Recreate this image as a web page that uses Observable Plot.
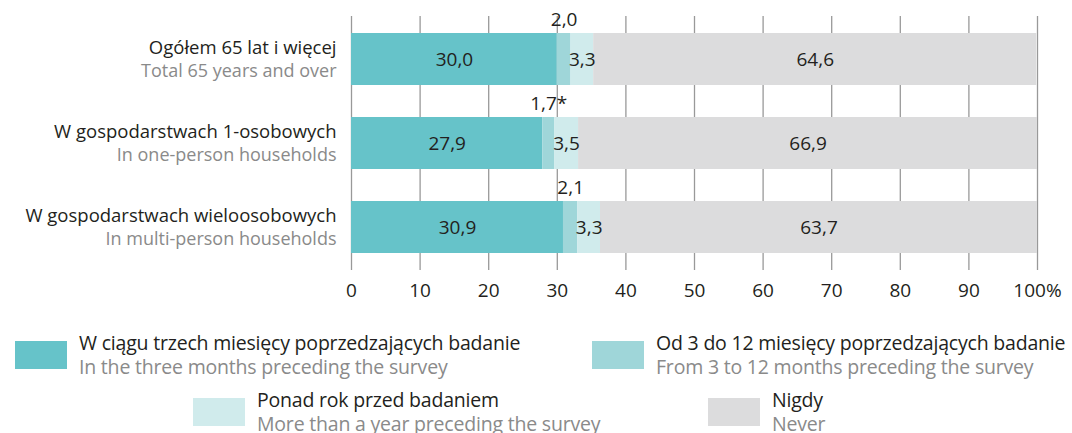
<!DOCTYPE html>
<html><head><meta charset="utf-8">
<script src="https://cdn.jsdelivr.net/npm/d3@7"></script>
<script src="https://cdn.jsdelivr.net/npm/@observablehq/plot@0.6"></script>
<style>
body{margin:0;background:#fff;font-family:"Open Sans",sans-serif;}
#wrap{position:relative;width:1072px;}
#legend{position:relative;width:1072px;height:123px;overflow:hidden;}
.item{position:absolute;display:flex;align-items:center;}
.sw{width:52px;height:28px;flex:none;}
.txt{margin-left:12px;font-size:19.5px;line-height:24px;white-space:nowrap;letter-spacing:-0.2px;}
.pl{color:#231f20}.en{color:#8a8a8a}
</style></head><body>
<div id="wrap"><div id="chart"></div><div id="legend"></div></div>
<script>
const categoriesPL = ["Ogółem 65 lat i więcej", "W gospodarstwach 1-osobowych", "W gospodarstwach wieloosobowych"];
const categoriesEN = ["Total 65 years and over", "In one-person households", "In multi-person households"];
const seriesPL = ["W ciągu trzech miesięcy poprzedzających badanie", "Od 3 do 12 miesięcy poprzedzających badanie", "Ponad rok przed badaniem", "Nigdy"];
const seriesEN = ["In the three months preceding the survey", "From 3 to 12 months preceding the survey", "More than a year preceding the survey", "Never"];
const colors = ["#66c3c9", "#9fd6d9", "#d0ebec", "#dcdcdd"];
const values = [
  [30.0, 2.0, 3.3, 64.6],
  [27.9, 1.7, 3.5, 66.9],
  [30.9, 2.1, 3.3, 63.7]
];
const notes = ["", "*", ""];
const xTicks = [0,10,20,30,40,50,60,70,80,90,100];

const rows = [];
categoriesPL.forEach((c, i) => {
  let acc = 0;
  values[i].forEach((v, j) => {
    rows.push({cat: c, series: seriesPL[j], s: j, value: v, x1: acc, x2: acc + v, mid: acc + v/2,
      label: v.toFixed(1).replace(".", ",") + (j === 1 ? notes[i] : "")});
    acc += v;
  });
});
const fmt = d => d === 100 ? "100%" : String(d);
const inside = rows.filter(d => d.s !== 1);
const above = rows.filter(d => d.s === 1);
const cats = categoriesPL.map((c, i) => ({cat: c, en: categoriesEN[i]}));

const chart = Plot.plot({
  width: 1072, height: 310,
  marginLeft: 351, marginRight: 35, marginTop: 16, marginBottom: 40,
  style: {fontFamily: "'Open Sans', sans-serif", fontSize: "18px", color: "#231f20", background: "#fff"},
  x: {domain: [0, 100], ticks: xTicks},
  y: {domain: categoriesPL, padding: 0.38, paddingOuter: 0.2, axis: null},
  color: {domain: seriesPL, range: colors},
  marks: [
    Plot.ruleX(xTicks, {stroke: "#999", strokeWidth: 1.3}),
    Plot.barX(rows, {x1: "x1", x2: "x2", y: "cat", fill: "series"}),
    Plot.text(inside, {x: "mid", y: "cat", text: "label", fontSize: 19, fill: "#231f20"}),
    Plot.text(above, {x: "mid", y: "cat", text: "label", dy: -40, fontSize: 19, fill: "#231f20"}),
    Plot.text(cats, {frameAnchor: "left", y: "cat", text: "cat", textAnchor: "end", dx: -15, dy: -11.5, fontSize: 18.5, fill: "#231f20"}),
    Plot.text(cats, {frameAnchor: "left", y: "cat", text: "en", textAnchor: "end", dx: -15, dy: 12, fontSize: 18, fill: "#8a8a8a"}),
    Plot.axisX({ticks: xTicks, tickFormat: fmt, tickSize: 0, tickPadding: 13, fontSize: 19, fill: "#231f20", label: null})
  ]
});
document.getElementById("chart").appendChild(chart);

const pos = [
  {left: 15, top: 31}, {left: 592, top: 31},
  {left: 193, top: 88}, {left: 708, top: 88}
];
const leg = document.getElementById("legend");
seriesPL.forEach((s, j) => {
  const it = document.createElement("div");
  it.className = "item";
  it.style.left = pos[j].left + "px";
  it.style.top = (pos[j].top - 10) + "px";
  it.innerHTML = `<div class="sw" style="background:${colors[j]}"></div><div class="txt"><div class="pl">${s}</div><div class="en">${seriesEN[j]}</div></div>`;
  leg.appendChild(it);
});
</script>
</body></html>
